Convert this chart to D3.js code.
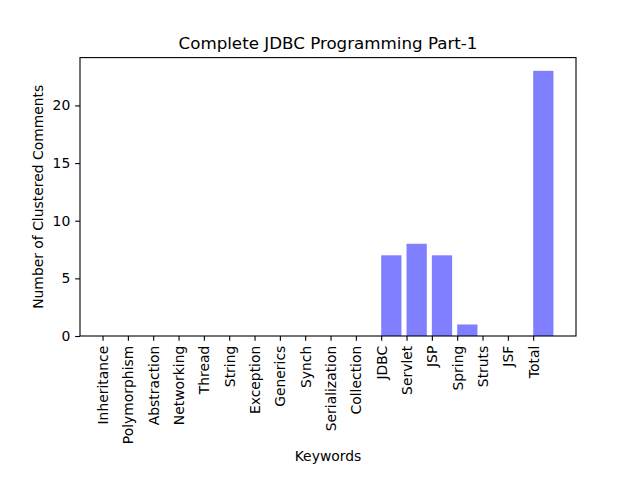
<!DOCTYPE html>
<html>
<head>
<meta charset="utf-8">
<script src="https://cdn.jsdelivr.net/npm/d3@7"></script>
<style>
body { margin: 0; background: #fff; }
svg { display: block; font-family: "DejaVu Sans", sans-serif; }
</style>
</head>
<body>
<svg id="chart" width="640" height="480"></svg>
<script>
const categories = ["Inheritance","Polymorphism","Abstraction","Networking","Thread","String","Exception","Generics","Synch","Serialization","Collection","JDBC","Servlet","JSP","Spring","Struts","JSF","Total"];
const values = [0,0,0,0,0,0,0,0,0,0,0,7,8,7,1,0,0,23];
const yTicks = [0,5,10,15,20];
const title = "Complete JDBC Programming Part-1";
const xTitle = "Keywords";
const yTitle = "Number of Clustered Comments";

(function () {
const svg = d3.select("#chart");
const W = 640, H = 480;
const mLeft = 80, mRight = 576, mTop = 57.6, mBottom = 336;
const n = categories.length;
const barW = 0.8;
const span = (n - 1) + barW;
const xmin = -0.05 * span, xmax = span + 0.05 * span;
const ymax = d3.max(values) * 1.05;

const x = d3.scaleLinear().domain([xmin, xmax]).range([mLeft, mRight]);
const y = d3.scaleLinear().domain([0, ymax]).range([mBottom, mTop]);

svg.append("rect").attr("width", W).attr("height", H).attr("fill", "#fff");

// bars
svg.append("g").selectAll("rect").data(values).join("rect")
  .attr("x", (d, i) => x(i))
  .attr("width", (d, i) => x(i + barW) - x(i))
  .attr("y", d => y(d))
  .attr("height", d => y(0) - y(d))
  .attr("fill", "#0000ff").attr("fill-opacity", 0.5);

// x axis
const xAxis = d3.axisBottom(x).tickValues(d3.range(n)).tickFormat(i => categories[i])
  .tickSize(4.86).tickPadding(4.86);
const gx = svg.append("g").attr("transform", `translate(0,${mBottom})`).call(xAxis);
gx.select(".domain").remove();
gx.selectAll(".tick line").attr("stroke", "#000").attr("stroke-width", 1.1);
gx.selectAll(".tick text")
  .attr("font-size", 13.9).attr("fill", "#000")
  .attr("font-family", "DejaVu Sans, sans-serif")
  .attr("transform", "rotate(-90)")
  .attr("x", -(4.86 + 4.86)).attr("y", 0).attr("dy", "0.35em")
  .attr("text-anchor", "end");

// y axis
const yAxis = d3.axisLeft(y).tickValues(yTicks).tickFormat(d3.format("d"))
  .tickSize(4.86).tickPadding(4.86);
const gy = svg.append("g").attr("transform", `translate(${mLeft},0)`).call(yAxis);
gy.select(".domain").remove();
gy.selectAll(".tick line").attr("stroke", "#000").attr("stroke-width", 1.1);
gy.selectAll(".tick text").attr("font-size", 13.9).attr("fill", "#000")
  .attr("font-family", "DejaVu Sans, sans-serif");

// frame
svg.append("rect").attr("x", mLeft).attr("y", mTop).attr("width", mRight - mLeft).attr("height", mBottom - mTop)
  .attr("fill", "none").attr("stroke", "#000").attr("stroke-width", 1.1);

// titles
svg.append("text").attr("x", (mLeft + mRight) / 2).attr("y", mTop - 8.3)
  .attr("text-anchor", "middle").attr("font-size", 16.7).attr("fill", "#000").text(title);
svg.append("text").attr("x", (mLeft + mRight) / 2).attr("y", 461)
  .attr("text-anchor", "middle").attr("font-size", 13.9).attr("fill", "#000").text(xTitle);
svg.append("text").attr("transform", `translate(43,${(mTop + mBottom) / 2}) rotate(-90)`)
  .attr("text-anchor", "middle").attr("font-size", 13.9).attr("fill", "#000").text(yTitle);
})();
</script>
</body>
</html>
